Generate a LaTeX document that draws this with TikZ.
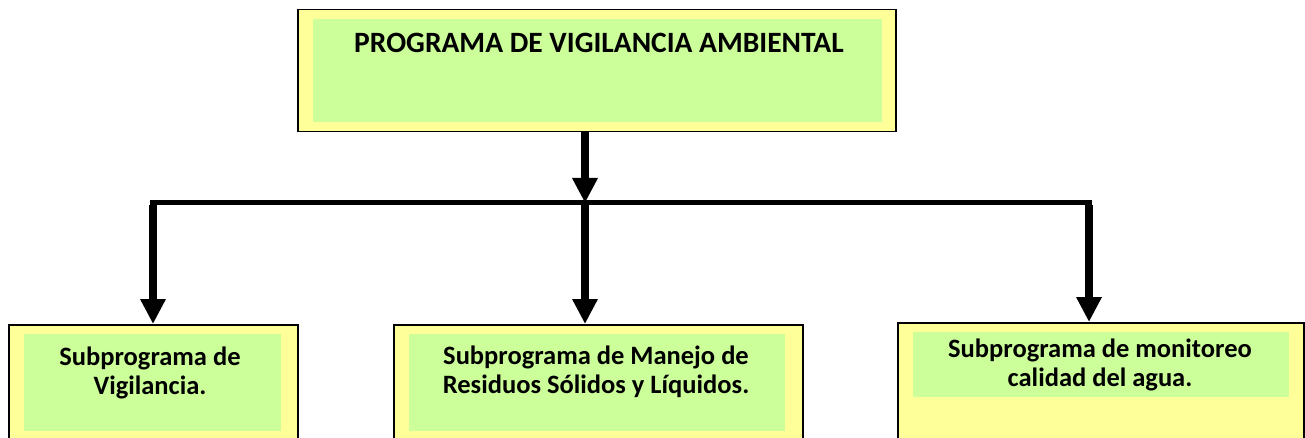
\documentclass[tikz,border=0pt]{standalone}
\usepackage{fontspec}
\setmainfont{Carlito}
\usetikzlibrary{arrows.meta}
\definecolor{boxyellow}{HTML}{FFFF99}
\definecolor{boxgreen}{HTML}{CCFF99}
\tikzset{
  outerbox/.style={draw=black, line width=1.5pt, fill=boxyellow, rectangle, inner sep=0pt, anchor=north west},
  innerbox/.style={fill=boxgreen, rectangle, inner sep=0pt, anchor=north west},
  txt/.style={font=\bfseries\fontsize{26.5}{29}\selectfont, align=center, anchor=base, inner sep=0pt},
  titletxt/.style={font=\bfseries\fontsize{29.5}{32}\selectfont, anchor=base, inner sep=0pt},
  arr/.style={line width=7.5pt, -{Triangle[width=24pt,length=25pt]}},
  bar/.style={line width=5pt}
}
\begin{document}
\begin{tikzpicture}[x=1pt,y=-1pt]
\clip (0,0) rectangle (1305,438);
\fill[white] (0,0) rectangle (1305,438);
% top box
\node[outerbox, minimum width=598pt, minimum height=122pt] (top) at (297,9) {};
\node[innerbox, minimum width=569pt, minimum height=103pt] (topin) at (313,19) {};
\node[titletxt] (toptxt) at (599,53) {PROGRAMA DE VIGILANCIA AMBIENTAL};
% bottom boxes
\node[outerbox, minimum width=289pt, minimum height=130pt] (b1) at (8,324) {};
\node[innerbox, minimum width=257pt, minimum height=97pt] (b1in) at (24,334) {};
\node[txt] (b1txt) at (150,394) {Subprograma de\\Vigilancia.};
\node[outerbox, minimum width=409pt, minimum height=130pt] (b2) at (393,324) {};
\node[innerbox, minimum width=376pt, minimum height=97pt] (b2in) at (409,334) {};
\node[txt] (b2txt) at (596,393) {Subprograma de Manejo de\\Residuos Sólidos y Líquidos.};
\node[outerbox, minimum width=406pt, minimum height=130pt] (b3) at (897,322) {};
\node[innerbox, minimum width=376pt, minimum height=65pt] (b3in) at (913,332) {};
\node[txt] (b3txt) at (1100,386) {Subprograma de monitoreo\\calidad del agua.};
% connectors
\coordinate (j0) at (585,203);
\coordinate (jl) at (153,203);
\coordinate (jr) at (1089,203);
\draw[bar] ([xshift=-3pt]jl) -- ([xshift=3pt]jr);
\draw[arr] (j0 |- top.south) -- (j0);
\draw[arr] ([yshift=-2pt]jl) -- (jl |- b1.north);
\draw[arr] (j0) -- (j0 |- b2.north);
\draw[arr] ([yshift=-2pt]jr) -- (jr |- b3.north);
\end{tikzpicture}
\end{document}
